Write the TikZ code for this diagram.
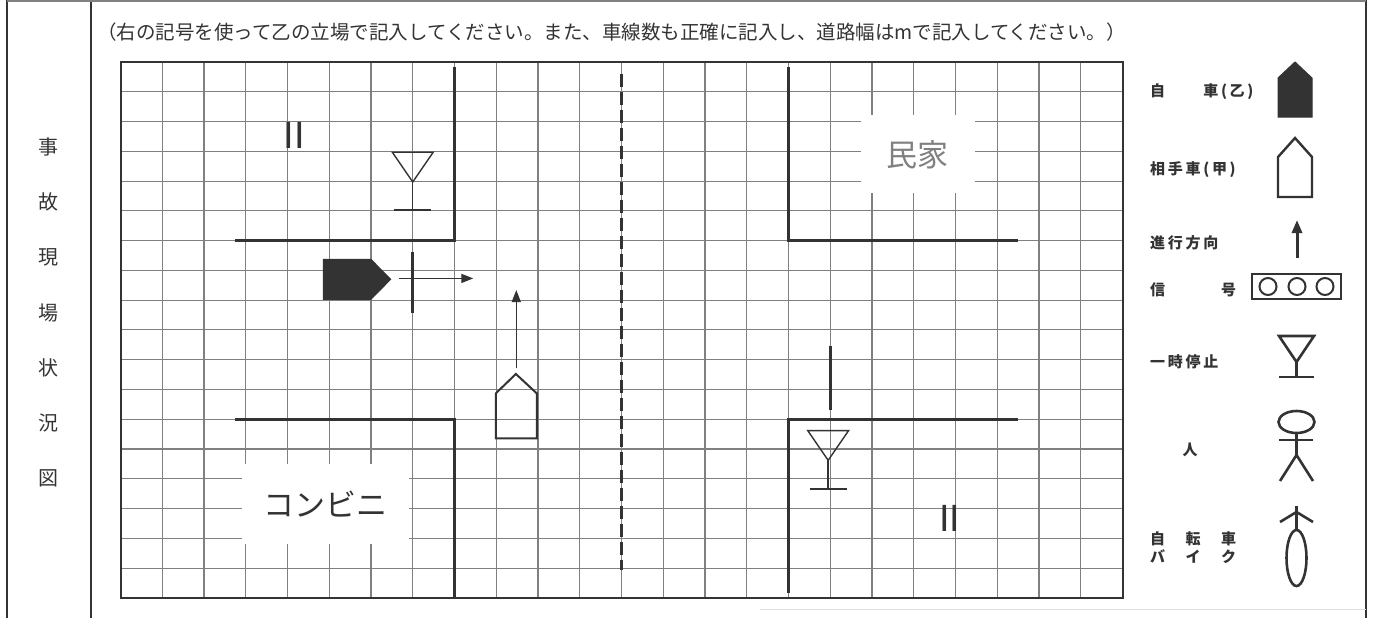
\documentclass[tikz,border=0pt]{standalone}
\usepackage{fontspec}
\setmainfont{Noto Sans CJK JP}
\newfontfamily\legendfont{Noto Sans CJK JP}[LetterSpace=18]
\newfontfamily\lanefont{Liberation Sans}
\usetikzlibrary{arrows.meta}
\definecolor{ink}{gray}{0.2}
\definecolor{rule}{gray}{0.5}

\begin{document}
\begin{tikzpicture}[x=1pt, y=-1pt]
	\tikzstyle{cell}   = [draw=rule, line width=1.1pt]
	\tikzstyle{road}   = [draw=ink, line width=3pt]
	\tikzstyle{centre} = [draw=ink, line width=3pt, dash pattern=on 13pt off 5pt]
	\tikzstyle{sign}   = [draw=ink, line width=1.4pt]
	\tikzstyle{go}     = [draw=ink, line width=1.4pt, -{Triangle[length=12pt, width=9pt]}]
	\tikzstyle{place}  = [fill=white, inner sep=0pt, font=\fontsize{31}{31}\selectfont]
	\tikzstyle{lanes}  = [inner sep=0pt, text=ink, font=\lanefont\fontsize{38}{38}\selectfont]
	\tikzstyle{side}   = [inner sep=0pt, text=ink, font=\fontsize{20}{20}\selectfont]
	\tikzstyle{legend} = [anchor=west, inner sep=0pt, text=ink, font=\legendfont\bfseries\fontsize{15}{18}\selectfont]
	\tikzstyle{symbol} = [draw=ink, line width=2.6pt]

	\useasboundingbox (0,0) rectangle (1373,618);

	\draw[ink, line width=2pt] (7,0) -- (7,618);
	\draw[ink, line width=2pt] (91,0) -- (91,618);
	\draw[ink, line width=2pt] (1366,0) -- (1366,618);
	\draw[gray, line width=1.5pt] (7,1) -- (1366,1);
	\draw[gray!25, line width=1pt] (760,609) -- (1366,609);

	\foreach \kan [count=\i from 0] in {事,故,現,場,状,況,図}
		\node[side] (side\i) at (48, 147+55.2*\i) {\kan};

	\node[anchor=west, inner sep=0pt, text=ink, font=\fontsize{19.5}{19.5}\selectfont] (notice) at (97,32)
		{（右の記号を使って乙の立場で記入してください。また、車線数も正確に記入し、道路幅はmで記入してください。）};

	\begin{scope}[shift={(120.5,62)}, x=41.75pt, y=-29.77pt]
%		\draw[step=1, red] (0,0) grid (24,18);
		\foreach \i in {1,...,23}
			\draw[cell] (\i,0) -- (\i,18);
		\foreach \j in {1,...,17}
			\draw[cell] (0,\j) -- (24,\j);
		\draw[ink, line width=2pt] (0,0) rectangle (24,18);

		\node[place, text=ink, minimum width=167pt, minimum height=80pt] (konbini) at (4.9,14.85) {コンビニ};
		\node[place, text=gray, minimum width=114pt, minimum height=78pt] (minka) at (19.1,3.1) {民家};

		\draw[road] (8,0.17) -- (8,6) -- (2.74,6);
		\draw[road] (2.74,12) -- (8,12) -- (8,18);
		\draw[road] (16,0.17) -- (16,6) -- (21.5,6);
		\draw[road] (21.5,12) -- (16,12) -- (16,17.85);
		\draw[centre] (12,0.4) -- (12,17.05);

		\draw[road] (7,6.37) -- (7,8.44);
		\draw[road] (17,9.53) -- (17,11.68);

		\foreach \x/\y in {7/3.03, 16.95/12.38} {
			\draw[sign] (\x-0.49,\y) -- (\x+0.49,\y) -- (\x,\y+1) -- cycle;
			\draw[sign] (\x,\y+1) -- (\x,\y+1.95);
			\draw[sign, line width=1.8pt] (\x-0.44,\y+1.95) -- (\x+0.44,\y+1.95);
		}

		\node[lanes] (lanesA) at (4.16,2.45) {II};
		\node[lanes] (lanesB) at (19.86,15.32) {II};

		% own car (otsu) and other car (kou)
		\filldraw[fill=ink, draw=ink, line width=1pt] (4.86,6.63) -- (6.0,6.63) -- (6.47,7.3) -- (6.0,7.97) -- (4.86,7.97) -- cycle;
		\coordinate (otsu) at (6.67,7.27);
		\coordinate (otsuGo) at (8.45,7.27);
		\draw[go] (otsu) -- (otsuGo);

		\draw[draw=ink, line width=2pt] (8.99,12.64) -- (8.99,11.13) -- (9.47,10.48) -- (9.97,11.13) -- (9.97,12.64) -- cycle;
		\coordinate (kou) at (9.48,10.29);
		\coordinate (kouGo) at (9.48,7.66);
		\draw[go] (kou) -- (kouGo);
	\end{scope}

	\foreach \name/\y/\txt in {own/92/自　　車(乙), other/170/相手車(甲), dir/243/進行方向, signal/290/信　　　号, stop/362/一時停止}
		\node[legend] (\name) at (1150,\y) {\txt};
	\node[legend, anchor=center] (person) at (1190,450) {人};
	\node[legend, align=left] (bike) at (1150,548) {自　転　車\\バ　イ　ク};

	\filldraw[symbol, fill=ink, line width=1pt] (1278,117) -- (1278,78) -- (1295,62) -- (1312,78) -- (1312,117) -- cycle;
	\draw[symbol, line width=2.4pt] (1278,197) -- (1278,157) -- (1295,138) -- (1312,157) -- (1312,197) -- cycle;
	\coordinate (dirFrom) at (1297,258);
	\coordinate (dirTo) at (1297,220);
	\draw[symbol, line width=3pt, -{Triangle[length=13pt, width=10pt]}] (dirFrom) -- (dirTo);
	\draw[symbol] (1252,274) rectangle (1341,299);
	\foreach \x in {1268, 1297, 1325}
		\draw[symbol, line width=2pt] (\x,286.5) circle (8.5);
	\draw[symbol] (1279,336) -- (1314,336) -- (1296.5,362) -- cycle;
	\draw[symbol] (1296.5,362) -- (1296.5,377) (1279,377) -- (1314,377);
	\draw[symbol] (1296.5,422) ellipse (18 and 11);
	\draw[symbol] (1296.5,433) -- (1296.5,455) (1279,440) -- (1313,440);
	\draw[symbol] (1280,481) -- (1296.5,455) -- (1313,481);
	\draw[symbol] (1296.5,506) -- (1296.5,530) (1280,522) -- (1296.5,512) -- (1313,522);
	\draw[symbol] (1296.5,558) ellipse (10 and 28);
\end{tikzpicture}
\end{document}
